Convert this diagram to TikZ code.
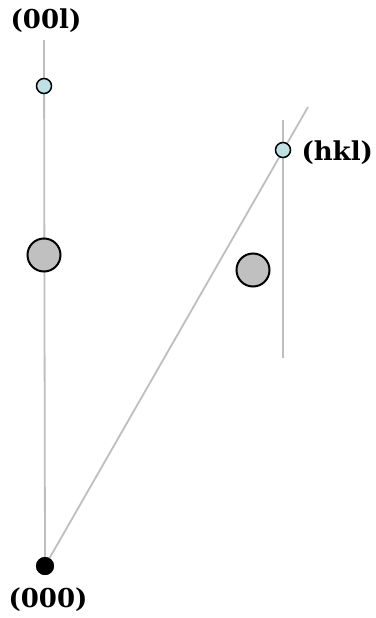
\documentclass[tikz,border=0pt]{standalone}
\usepackage{fontspec}
\setmainfont{DejaVu Serif}
\begin{document}
\begin{tikzpicture}[x=1pt,y=-1pt,
  axis/.style={draw={rgb,255:red,190;green,190;blue,190}, line width=1.8pt},
  small/.style={circle, draw=black, line width=1.5pt, fill={rgb,255:red,190;green,225;blue,228}, minimum size=15pt, inner sep=0pt},
  big/.style={circle, draw=black, line width=2pt, fill={rgb,255:red,192;green,192;blue,192}, minimum size=33pt, inner sep=0pt},
  origin/.style={circle, fill=black, minimum size=18pt, inner sep=0pt},
  lab/.style={font=\fontsize{26}{28}\selectfont\bfseries}]
\useasboundingbox (0,0) rectangle (375,618);
\coordinate (vtop) at (44,40);
\coordinate (dtop) at (308,107);
\coordinate (htop) at (283,120);
\coordinate (hbot) at (283,358);
\node[origin] (o) at (45,566) {};
\draw[axis] (vtop) -- (o.center);
\draw[axis] (o.center) -- (dtop);
\draw[axis] (htop) -- (hbot);
\node[origin] at (45,566) {};
\node[small] (p00l) at (44,86) {};
\node[big] (b1) at (44,255) {};
\node[small] (phkl) at (283,150) {};
\node[big] (b2) at (253,270) {};
\node[lab] (l00l) at (46,21) {(00l)};
\node[lab, anchor=west] (lhkl) at (298,153) {(hkl)};
\node[lab] (l000) at (48,600) {(000)};
\end{tikzpicture}
\end{document}
